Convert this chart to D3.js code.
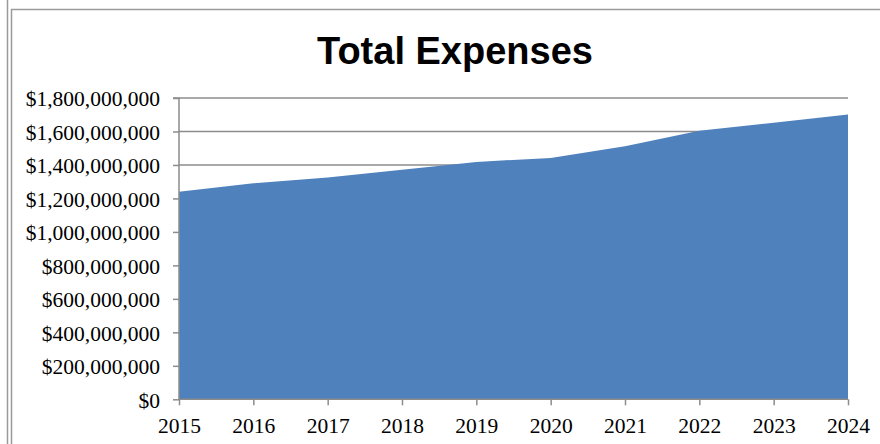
<!DOCTYPE html>
<html>
<head>
<meta charset="utf-8">
<script src="https://cdn.jsdelivr.net/npm/d3@7"></script>
<style>
  html, body { margin: 0; padding: 0; background: #fff; }
  svg { display: block; }
</style>
</head>
<body>
<svg id="chart" width="880" height="444"></svg>
<script>
const years = ["2015","2016","2017","2018","2019","2020","2021","2022","2023","2024"];
const expenses = [1240000000, 1290000000, 1325000000, 1372000000, 1418000000, 1442000000, 1512000000, 1605000000, 1652000000, 1702000000];
const yTicks = [0, 200000000, 400000000, 600000000, 800000000, 1000000000, 1200000000, 1400000000, 1600000000, 1800000000];
const title = "Total Expenses";

const svg = d3.select("#chart");
const W = 880, H = 444;
const plot = { left: 179, right: 848, top: 98, bottom: 399.3 };
const grey = "#8c8c8c";

// outer frames
svg.append("line").attr("x1", 7.5).attr("x2", 7.5).attr("y1", 0).attr("y2", H)
  .attr("stroke", "#9a9a9a").attr("stroke-width", 1.5);
svg.append("path").attr("d", `M11.5,${H} V9.5 H${W}`)
  .attr("fill", "none").attr("stroke", "#9a9a9a").attr("stroke-width", 1.5);

const x = d3.scalePoint().domain(years).range([plot.left, plot.right]);
const y = d3.scaleLinear().domain([0, 1800000000]).range([plot.bottom, plot.top]);

// gridlines
svg.append("g").selectAll("line").data(yTicks.filter(d => d > 0)).join("line")
  .attr("x1", plot.left).attr("x2", plot.right)
  .attr("y1", d => y(d)).attr("y2", d => y(d))
  .attr("stroke", grey).attr("stroke-width", 1.5);

// area
const area = d3.area()
  .x((d, i) => x(years[i]))
  .y0(y(0))
  .y1(d => y(d));
svg.append("path").datum(expenses).attr("d", area).attr("fill", "#4f81bd");

// y axis
const fmt = d => "$" + d3.format(",")(d);
const yAxis = d3.axisLeft(y).tickValues(yTicks).tickFormat(fmt).tickSize(6).tickPadding(13);
const gy = svg.append("g").attr("transform", `translate(${plot.left},0)`).call(yAxis);
gy.select(".domain").attr("stroke", grey).attr("stroke-width", 1.5).attr("d", `M-6,${plot.top}H0V${plot.bottom}`);
gy.selectAll(".tick line").attr("stroke", grey).attr("stroke-width", 1.5);
gy.selectAll(".tick text").attr("font-family", "'Liberation Serif', 'Times New Roman', serif")
  .attr("font-size", 21.5).attr("fill", "#000").attr("dy", "0.36em");

// x axis
const xAxis = d3.axisBottom(x).tickSize(6).tickPadding(12);
const gx = svg.append("g").attr("transform", `translate(0,${plot.bottom})`).call(xAxis);
gx.select(".domain").attr("stroke", grey).attr("stroke-width", 1.5).attr("d", `M${plot.left},0H${plot.right}`);
gx.selectAll(".tick line").attr("stroke", grey).attr("stroke-width", 1.5);
gx.selectAll(".tick text").attr("font-family", "'Liberation Serif', 'Times New Roman', serif")
  .attr("font-size", 21.5).attr("fill", "#000");

// title
svg.append("text").attr("x", 455).attr("y", 63.5).attr("text-anchor", "middle")
  .attr("font-family", "'Liberation Sans', Arial, sans-serif").attr("font-weight", "bold")
  .attr("font-size", 38).attr("fill", "#000").text(title);
</script>
</body>
</html>
